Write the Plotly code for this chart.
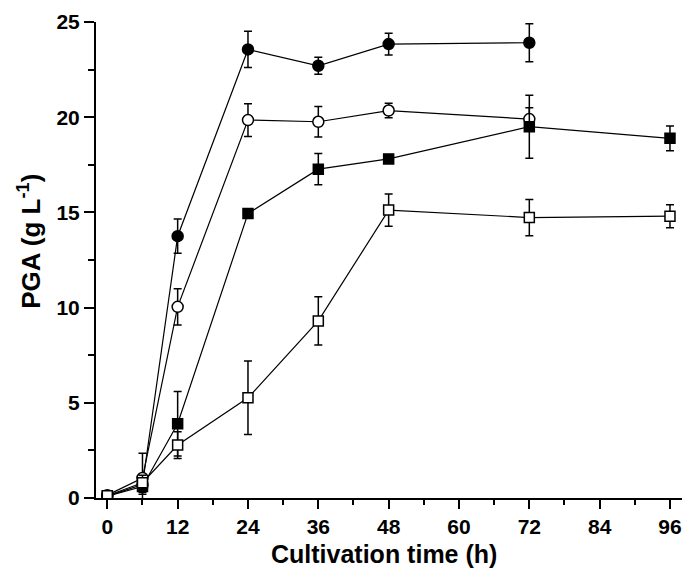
import plotly.graph_objects as go

# Cultivation time (h) for each series
t_short = [0, 6, 12, 24, 36, 48, 72]
t_long = [0, 6, 12, 24, 36, 48, 72, 96]

# PGA concentration (g/L) and standard deviations
pga_filled_circle = [0.10, 0.70, 13.75, 23.56, 22.70, 23.84, 23.91]
sd_filled_circle = [0.05, 0.50, 0.90, 0.95, 0.45, 0.57, 1.00]

pga_open_circle = [0.15, 1.05, 10.04, 19.85, 19.76, 20.35, 19.90]
sd_open_circle = [0.05, 1.30, 0.95, 0.86, 0.80, 0.38, 0.60]

pga_filled_square = [0.10, 0.60, 3.90, 14.94, 17.27, 17.81, 19.50, 18.89]
sd_filled_square = [0.05, 0.30, 1.70, 0.15, 0.82, 0.20, 1.65, 0.65]

pga_open_square = [0.12, 0.80, 2.78, 5.26, 9.30, 15.12, 14.73, 14.80]
sd_open_square = [0.05, 0.40, 0.70, 1.93, 1.27, 0.85, 0.95, 0.60]

x_tickvals = [0, 12, 24, 36, 48, 60, 72, 84, 96]
y_tickvals = [0, 5, 10, 15, 20, 25]

SANS = "Liberation Sans Narrow, Arial Narrow, Liberation Sans, Arial, sans-serif"

series = [
    (t_short, pga_filled_circle, sd_filled_circle, "circle", "black", 11),
    (t_short, pga_open_circle, sd_open_circle, "circle", "white", 11),
    (t_long, pga_filled_square, sd_filled_square, "square", "black", 10),
    (t_long, pga_open_square, sd_open_square, "square", "white", 10),
]

fig = go.Figure()
for t, y, sd, sym, fill, size in series:
    fig.add_trace(go.Scatter(
        x=t, y=y, mode="lines+markers",
        line=dict(color="black", width=1.2),
        marker=dict(symbol=sym, size=size, color=fill,
                    line=dict(color="black", width=1.5)),
        error_y=dict(type="data", array=sd, visible=True,
                     color="black", thickness=1.5, width=4),
        showlegend=False,
    ))

fig.update_xaxes(
    range=[-1.93, 98.05],
    tickvals=x_tickvals,
    showgrid=False, zeroline=False,
    showline=True, linecolor="black", linewidth=2,
    ticks="outside", ticklen=9, tickwidth=2, tickcolor="black",
    minor=dict(dtick=6, tick0=0, ticks="outside", ticklen=5,
               tickwidth=1.5, tickcolor="black", showgrid=False),
    tickfont=dict(family=SANS, size=21, color="black", weight="bold"),
)
fig.update_yaxes(
    range=[0, 25],
    tickvals=y_tickvals,
    showgrid=False, zeroline=False,
    showline=True, linecolor="black", linewidth=2,
    ticks="outside", ticklen=10, tickwidth=2, tickcolor="black",
    minor=dict(dtick=2.5, tick0=0, ticks="outside", ticklen=6,
               tickwidth=1.5, tickcolor="black", showgrid=False),
    tickfont=dict(family=SANS, size=21, color="black", weight="bold"),
)

fig.add_annotation(
    text="Cultivation time (h)", xref="paper", yref="paper",
    x=0.4915, y=-0.118, xanchor="center", yanchor="middle",
    showarrow=False,
    font=dict(family="Liberation Sans, Arial, sans-serif", size=25,
              color="black", weight="bold"),
)
fig.add_annotation(
    text="PGA (g L<sup>-1</sup>)", xref="paper", yref="paper",
    x=-0.113, y=0.54, xanchor="center", yanchor="middle",
    textangle=-90, showarrow=False,
    font=dict(family="Liberation Sans, Arial, sans-serif", size=26,
              color="black", weight="bold"),
)

fig.update_layout(
    width=684, height=572,
    margin=dict(l=96, r=2, t=22, b=74),
    paper_bgcolor="white", plot_bgcolor="white",
)

fig.write_html("out.html")
